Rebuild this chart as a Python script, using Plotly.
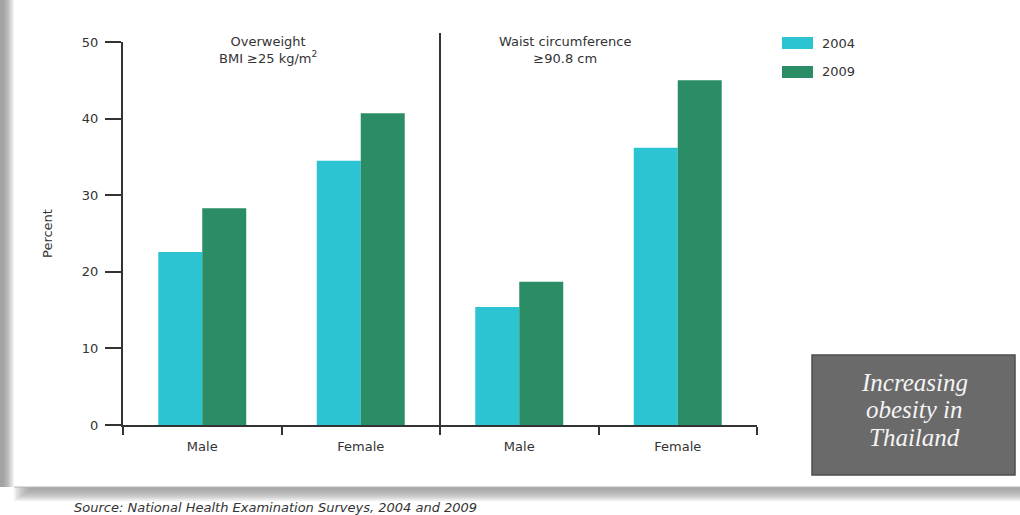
import plotly.graph_objects as go

# Survey results (percent of adults)
groups = ["Overweight", "Overweight", "Waist", "Waist"]
sexes = ["Male", "Female", "Male", "Female"]
pct_2004 = [22.6, 34.5, 15.4, 36.2]
pct_2009 = [28.3, 40.7, 18.7, 45.0]
years = ["2004", "2009"]
colors = ["#2cc3d2", "#2a8d66"]
y_ticks = [0, 10, 20, 30, 40, 50]
caption_lines = ["Increasing", "obesity in", "Thailand"]

W, H = 1020, 515
L, R, T, B = 123, 263, 42, 90
PW, PH = W - L - R, H - T - B

def px_x(px):
    return (px - L) / PW

def px_y(py):
    return (H - B - py) / PH

pos = list(range(len(sexes)))

fig = go.Figure()
for name, vals, col in zip(years, [pct_2004, pct_2009], colors):
    fig.add_trace(go.Bar(x=pos, y=vals, name=name, marker=dict(color=col, line=dict(width=0)),
                         showlegend=False))

font = "DejaVu Sans, Noto Sans, sans-serif"
axis_col = "#333333"

shapes = []
# panel shadow on the left edge and beneath the panel
for i, op in enumerate([0.05, 0.05, 0.05, 0.05, 0.05, 0.04, 0.04, 0.03, 0.03, 0.02]):
    shapes.append(dict(type="rect", xref="paper", yref="paper",
                       x0=px_x(0), x1=px_x(14 - i * 1.2), y0=px_y(487), y1=px_y(0),
                       fillcolor="#000000", opacity=op, line=dict(width=0), layer="below"))
for i, op in enumerate([0.06, 0.06, 0.05, 0.05, 0.04, 0.04, 0.03, 0.03, 0.02, 0.02]):
    shapes.append(dict(type="rect", xref="paper", yref="paper",
                       x0=px_x(14 + i * 2), x1=px_x(1020), y0=px_y(487 + 1.4 * (10 - i)), y1=px_y(487),
                       fillcolor="#000000", opacity=op, line=dict(width=0), layer="below"))
shapes.append(dict(type="line", xref="paper", yref="paper", x0=px_x(14), x1=px_x(1020),
                   y0=px_y(487), y1=px_y(487), line=dict(color="#b8b8b8", width=1)))

# divider between the two panels
shapes.append(dict(type="line", xref="x", yref="paper", x0=1.5, x1=1.5,
                   y0=px_y(433), y1=px_y(33), line=dict(color=axis_col, width=2)))

# legend swatches
for k, (name, col) in enumerate(zip(years, colors)):
    top = 37 + k * 29
    shapes.append(dict(type="rect", xref="paper", yref="paper",
                       x0=px_x(782), x1=px_x(813), y0=px_y(top + 12), y1=px_y(top),
                       fillcolor=col, line=dict(width=0)))

# caption box
shapes.append(dict(type="rect", xref="paper", yref="paper",
                   x0=px_x(812), x1=px_x(1015), y0=px_y(475), y1=px_y(355),
                   fillcolor="#6a6a6a", line=dict(color="#4e4e4e", width=1.5)))

annotations = [
    dict(text="Overweight<br>BMI ≥25 kg/m<sup>2</sup>", x=px_x(268), y=px_y(32.5),
         xanchor="center", yanchor="top"),
    dict(text="Waist circumference<br>≥90.8 cm", x=px_x(565), y=px_y(32.5),
         xanchor="center", yanchor="top"),
]
for a in annotations:
    a.update(xref="paper", yref="paper", showarrow=False, align="center",
             font=dict(family=font, size=13, color=axis_col))

for k, name in enumerate(years):
    annotations.append(dict(text=name, xref="paper", yref="paper", x=px_x(820), y=px_y(43 + k * 29),
                            xanchor="left", yanchor="middle", showarrow=False,
                            font=dict(family=font, size=13, color=axis_col)))

for k, line in enumerate(caption_lines):
    annotations.append(dict(text="<i>" + line + "</i>", xref="paper", yref="paper",
                            x=px_x(914), y=px_y(382 + k * 27.5), xanchor="center", yanchor="middle",
                            showarrow=False, borderpad=0,
                            font=dict(family="Liberation Serif, DejaVu Serif, serif", size=25,
                                      color="#f4f4f4")))

annotations.append(dict(text="<i>Source: National Health Examination Surveys, 2004 and 2009</i>",
                        xref="paper", yref="paper", x=px_x(72), y=px_y(507),
                        xanchor="left", yanchor="middle", showarrow=False,
                        font=dict(family=font, size=13, color=axis_col)))

fig.update_layout(
    width=W, height=H,
    margin=dict(l=L, r=R, t=T, b=B, autoexpand=False),
    paper_bgcolor="white", plot_bgcolor="white",
    barmode="group", bargap=0.445, bargroupgap=0,
    showlegend=False,
    shapes=shapes, annotations=annotations,
    font=dict(family=font, size=13, color=axis_col),
    xaxis=dict(range=[-0.5, 3.5], tickvals=pos, ticktext=sexes, ticks="",
               showline=True, linecolor=axis_col, linewidth=2, showgrid=False, zeroline=False,
               ticklabelstandoff=8, tickfont=dict(family=font, size=13, color=axis_col),
               minor=dict(tickvals=[-0.5, 0.5, 1.5, 2.5, 3.5], ticks="outside", ticklen=8,
                          tickwidth=2, tickcolor=axis_col, showgrid=False)),
    yaxis=dict(range=[0, 50], tickvals=y_ticks, ticks="outside", ticklen=16, tickwidth=2,
               tickcolor=axis_col, showline=True, linecolor=axis_col, linewidth=2,
               showgrid=False, zeroline=False, ticklabelstandoff=4,
               tickfont=dict(family=font, size=13, color=axis_col),
               title=dict(text="Percent", standoff=26, font=dict(family=font, size=13, color=axis_col))),
)

fig.write_html("out.html")
